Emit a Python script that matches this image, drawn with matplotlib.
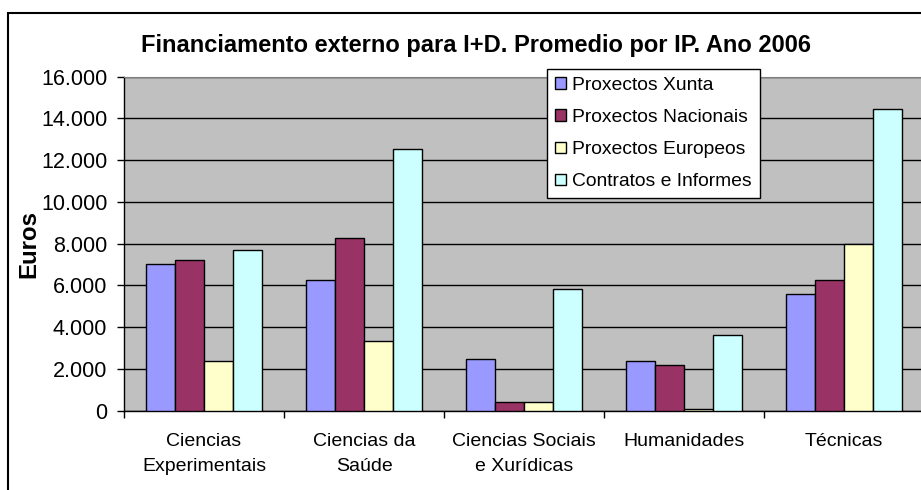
import matplotlib
matplotlib.use("Agg")
import matplotlib.pyplot as plt
from matplotlib.patches import Patch, Rectangle
from matplotlib.ticker import FuncFormatter, FixedLocator
import numpy as np

plt.rcParams['font.family'] = ['Liberation Sans', 'DejaVu Sans']

categories = ["Ciencias\nExperimentais", "Ciencias da\nSaúde", "Ciencias Sociais\ne Xurídicas",
              "Humanidades", "Técnicas"]
series_names = ["Proxectos Xunta", "Proxectos Nacionais", "Proxectos Europeos", "Contratos e Informes"]
xunta = [7050, 6250, 2480, 2400, 5590]
nacionais = [7200, 8260, 430, 2190, 6260]
europeos = [2380, 3320, 420, 80, 7980]
contratos = [7700, 12550, 5820, 3630, 14450]
colors = ["#9999FF", "#993366", "#FFFFCC", "#CCFFFF"]
title = "Financiamento externo para I+D. Promedio por IP. Ano 2006"
ylabel = "Euros"
yticks = [0, 2000, 4000, 6000, 8000, 10000, 12000, 14000, 16000]

W, H = 921, 490
fig = plt.figure(figsize=(W / 100, H / 100), dpi=100)
fig.patch.set_facecolor("white")

# outer chart frame (cut at right/bottom)
fig.add_artist(Rectangle((8 / W, -0.1), 1.2, 1 - 13 / H + 0.1, transform=fig.transFigure,
                         fill=False, edgecolor="black", linewidth=1.5))

ax = fig.add_axes([124 / W, 1 - 410.7 / H, 800 / W, (410.7 - 76.7) / H])
ax.set_facecolor("#C0C0C0")

n = len(categories)
x = np.arange(n)
bw = 1 / 5.5
all_series = [xunta, nacionais, europeos, contratos]
for i, (vals, c) in enumerate(zip(all_series, colors)):
    ax.bar(x + (i - 1.5) * bw, vals, width=bw, color=c, edgecolor="black", linewidth=1.0, zorder=3)

ax.set_xlim(-0.5, n - 0.5)
ax.set_ylim(0, 16000)
ax.set_yticks(yticks)
ax.yaxis.set_major_formatter(FuncFormatter(lambda v, p: f"{int(v):,}".replace(",", ".")))
ax.grid(axis="y", color="black", linewidth=1.0, zorder=1)
ax.set_axisbelow(True)

ax.xaxis.set_major_locator(FixedLocator(np.arange(-0.5, n, 1.0)))
ax.xaxis.set_minor_locator(FixedLocator(x))
ax.set_xticklabels([])
ax.set_xticklabels(categories, minor=True, fontsize=14, linespacing=1.65)
ax.tick_params(axis="x", which="minor", length=0, pad=16)
ax.tick_params(axis="x", which="major", length=5, direction="out", width=1)
ax.tick_params(axis="y", length=5, direction="out", width=1, labelsize=15.5, pad=7)

for s in ["left", "bottom"]:
    ax.spines[s].set_color("black")
    ax.spines[s].set_linewidth(1.0)
ax.spines["top"].set_color("#808080")
ax.spines["right"].set_visible(False)

fig.text(476 / W, 1 - 51.7 / H, title, ha="center", va="baseline", fontsize=17, fontweight="bold")
fig.text(29 / W, 1 - 244 / H, ylabel, ha="center", va="center", rotation=90, fontsize=17.3, fontweight="bold")

handles = [Patch(facecolor=c, edgecolor="black", linewidth=1.0) for c in colors]
leg = fig.legend(handles, series_names, loc="upper left", bbox_to_anchor=(547 / W, 1 - 69 / H),
                 bbox_transform=fig.transFigure, fontsize=13.9, frameon=True, fancybox=False,
                 edgecolor="black", framealpha=1, handlelength=0.56, handleheight=0.56,
                 handletextpad=0.34, borderpad=0.42, labelspacing=0.78, borderaxespad=0)
leg.get_frame().set_linewidth(1.0)

fig.savefig("out.png", dpi=100)
